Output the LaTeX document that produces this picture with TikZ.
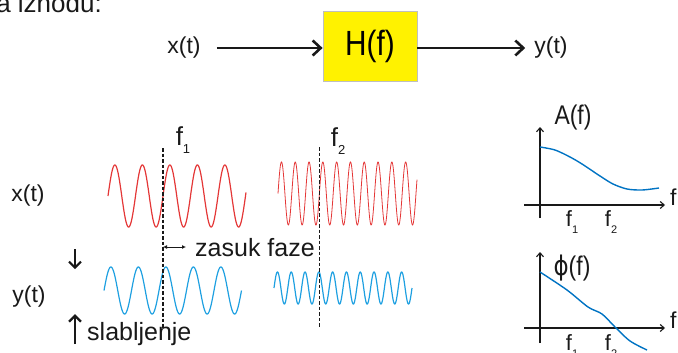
\documentclass[tikz,border=0pt]{standalone}
\usepackage{fontspec}
\setmainfont{Liberation Sans}
\newfontfamily\djfont{DejaVu Sans}
\usepackage{graphicx}
\usetikzlibrary{arrows.meta}
\definecolor{wred}{RGB}{228,55,55}
\definecolor{wblue}{RGB}{30,160,225}
\definecolor{cblue}{RGB}{0,115,195}
\definecolor{boxyel}{RGB}{255,242,0}
\newcommand\fsub[2]{f\raisebox{-0.3em}{\fontsize{#2}{#2}\selectfont #1}}
\newcommand\fz[1]{\fontsize{#1}{#1}\selectfont}
\begin{document}
\begin{tikzpicture}[x=1pt,y=-1pt,
  lab/.style={inner sep=0pt, text=black!90},
  bigarrow/.style={line width=2.6pt, -{Straight Barb[length=8pt,width=15pt]}, black!90},
  smallarrow/.style={line width=2pt, -{Straight Barb[length=6pt,width=12pt]}, black!90},
  axis/.style={line width=1.1pt, -{Straight Barb[length=4pt,width=7pt]}, black!90},
  cut/.style={line width=1.1pt, dash pattern=on 3.5pt off 2pt, black!90},
  wave/.style={line width=1.2pt, samples=400, smooth},
  curve/.style={line width=1.4pt, cblue, smooth}]
\useasboundingbox (0,0) rectangle (678,353);
\clip (0,0) rectangle (678,353);
% partial heading text at top edge
\node[lab, anchor=base east, font=\fz{26}] (head) at (102,12.7) {a izhodu:};
% block diagram
\node[lab, font=\fz{23}] (xin) at (184,48) {x(t)};
\node[draw=black!25, line width=0.8pt, fill=boxyel, minimum width=94pt, minimum height=70pt, inner sep=0pt, font=\fz{35}] (H) at (370,46) {\scalebox{0.85}[1]{H(f)}};
\node[lab, font=\fz{23}] (yout) at (551,48) {y(t)};
\draw[bigarrow] ([xshift=16pt]xin.east) -- ([yshift=-2pt]H.west);
\draw[bigarrow] ([yshift=-2pt]H.east) -- ([xshift=-9pt]yout.west);
% signal labels
\node[lab, font=\fz{23}] (xt) at (28,196) {x(t)};
\node[lab, font=\fz{23}] (yt) at (29,297) {y(t)};
\coordinate (d1) at (75,249); \coordinate (d2) at (75,269);
\draw[smallarrow] (d1) -- (d2);
\coordinate (u1) at (75,344); \coordinate (u2) at (75,314);
\draw[smallarrow, line width=2.4pt] (u1) -- (u2);
\node[lab, anchor=base west, font=\fz{25}] (slab) at (87,340) {slabljenje};
% waves
\draw[wave, wred] plot[domain=108:246] (\x, {196-31*sin(13.0909*(\x-108))});
\draw[wave, wblue] plot[domain=104:241.5] (\x, {290.5-23.5*sin(13.0909*(\x-104))});
\draw[wave, wred, line width=0.8pt] plot[domain=278:417] (\x, {193.5-31.5*sin(26.087*(\x-278))});
\draw[wave, wblue] plot[domain=274:412] (\x, {288-16*sin(26.087*(\x-274))});
% dashed markers
\coordinate (c1t) at (163,148); \coordinate (c1b) at (163,328);
\coordinate (c2t) at (319.5,147); \coordinate (c2b) at (319.5,328);
\draw[cut] (c1t) -- (c1b);
\draw[cut] (c2t) -- (c2b);
\node[lab, font=\fz{26}] (f1) at (183,140) {\fsub{1}{13}};
\node[lab, font=\fz{26}] (f2) at (338,141) {\fsub{2}{13}};
\node[lab, anchor=base west, font=\fz{25}] (zasuk) at (195,256) {zasuk faze};
\coordinate (z1) at (163,247); \coordinate (z2) at (186,247);
\draw[line width=0.8pt, black!90, {Latex[length=4pt,width=4pt]}-{Latex[length=4pt,width=4pt]}] (z1) -- (z2);
% amplitude plot
\coordinate (a1) at (540,218); \coordinate (a2) at (540,127);
\coordinate (a3) at (524,205); \coordinate (a4) at (665,205);
\draw[axis] (a1) -- (a2);
\draw[axis] (a3) -- (a4);
\node[lab, font=\fz{27}] (Alab) at (573,118) {\scalebox{0.85}[1]{A(f)}};
\node[lab, anchor=west, font=\fz{23}] (fa) at (670,197) {f};
\node[lab, font=\fz{22}] (fa1) at (572,222) {\fsub{1}{11}};
\node[lab, font=\fz{22}] (fa2) at (611,222) {\fsub{2}{11}};
\draw[curve] plot coordinates {(540,147) (555,150) (570,157) (582,164) (600,176) (613,184) (627,189) (642,190) (659,188)};
% phase plot
\coordinate (p1) at (540,343); \coordinate (p2) at (540,252);
\coordinate (p3) at (524,328); \coordinate (p4) at (665,328);
\draw[axis] (p1) -- (p2);
\draw[axis] (p3) -- (p4);
\node[lab, font=\fz{27}] (Plab) at (572,268) {\scalebox{0.85}[1]{{\djfont ϕ}(f)}};
\node[lab, anchor=west, font=\fz{23}] (fp) at (670,320) {f};
\node[lab, font=\fz{22}] (fp1) at (572,346) {\fsub{1}{11}};
\node[lab, font=\fz{22}] (fp2) at (611,346) {\fsub{2}{11}};
\draw[curve] plot coordinates {(540,272) (567,290) (588,307) (602,314) (615,327) (630,341) (647,350)};
\end{tikzpicture}
\end{document}
